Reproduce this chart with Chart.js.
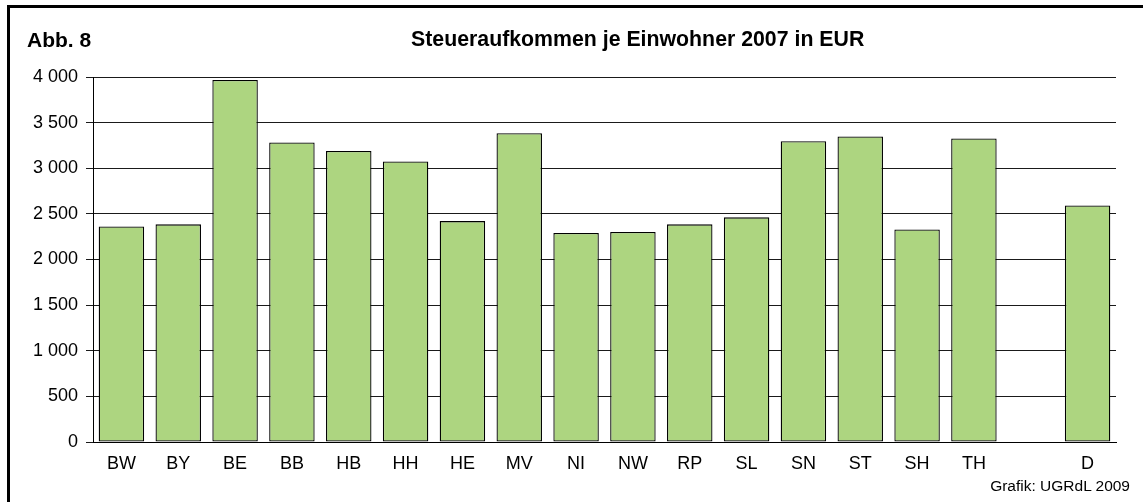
<!DOCTYPE html>
<html lang="de">
<head>
<meta charset="utf-8">
<title>Steueraufkommen je Einwohner 2007</title>
<script src="https://cdn.jsdelivr.net/npm/chart.js@4/dist/chart.umd.min.js"></script>
<style>
    html, body { margin: 0; padding: 0; background: #fff; overflow: hidden; }
    body { width: 1143px; height: 502px; position: relative; font-family: 'Liberation Sans', Arial, sans-serif; }
    #rahmen { position: absolute; left: 7px; top: 5px; width: 1200px; height: 600px; border-top: 3px solid #000; border-left: 3px solid #000; }
    .txt { position: absolute; white-space: nowrap; color: #000; }
    #abb { left: 27px; top: 29px; font-size: 21px; line-height: 21px; font-weight: bold; }
    #titel { left: 411px; top: 29px; font-size: 21.3px; line-height: 21px; font-weight: bold; }
    #quelle { right: 13px; top: 478px; font-size: 15.5px; line-height: 16px; }
    #grafico { position: absolute; left: 0; top: 0; }
</style>
</head>
<body>
<canvas id="grafico" width="1143" height="502"></canvas>
<div id="rahmen"></div>
<div class="txt" id="abb">Abb. 8</div>
<div class="txt" id="titel">Steueraufkommen je Einwohner 2007 in EUR</div>
<div class="txt" id="quelle">Grafik: UGRdL 2009</div>

<script>
//daten
const laender = ['BW', 'BY', 'BE', 'BB', 'HB', 'HH', 'HE', 'MV', 'NI', 'NW', 'RP', 'SL', 'SN', 'ST', 'SH', 'TH', '', 'D'];
const steuerJeEinwohner = [2363, 2385, 3967, 3282, 3190, 3074, 2421, 3384, 2290, 2301, 2385, 2462, 3296, 3348, 2330, 3326, null, 2593];
const yMin = 0;
const yMax = 4000;
const yStep = 500;

//farben
const gruen = '#add580';
const schwarz = '#000000';

//tausender mit leerzeichen
const formatZahl = valor => String(valor).replace(/\B(?=(\d{3})+(?!\d))/g, ' ');

const fuente = { family: "'Liberation Sans', Arial, sans-serif", size: 18 };

const ctx = document.getElementById('grafico').getContext('2d');

const grafico = new Chart(ctx, {
    type: 'bar',
    data: {
        labels: laender,
        datasets: [{
            data: steuerJeEinwohner,
            backgroundColor: gruen,
            borderColor: schwarz,
            borderWidth: 1.3,
            borderSkipped: false,
            categoryPercentage: 0.8,
            barPercentage: 1
        }]
    },
    options: {
        responsive: false,
        animation: false,
        layout: { padding: { left: 0, top: 77, right: 27, bottom: 0 } },
        plugins: {
            legend: { display: false },
            tooltip: { enabled: false },
            title: { display: false }
        },
        scales: {
            x: {
                grid: { display: false },
                border: { display: true, color: schwarz, width: 1 },
                ticks: { color: schwarz, font: fuente, padding: 3, maxRotation: 0, autoSkip: false },
                afterFit: escala => { escala.height = 60; }
            },
            y: {
                min: yMin,
                max: yMax,
                grid: { color: '#1a1a1a', lineWidth: 1, drawTicks: true, tickLength: 7 },
                border: { display: true, color: schwarz, width: 1 },
                ticks: {
                    stepSize: yStep,
                    color: schwarz,
                    font: fuente,
                    padding: 8,
                    callback: valor => formatZahl(valor)
                },
                afterFit: escala => { escala.width = 93; }
            }
        }
    }
});
</script>
</body>
</html>
